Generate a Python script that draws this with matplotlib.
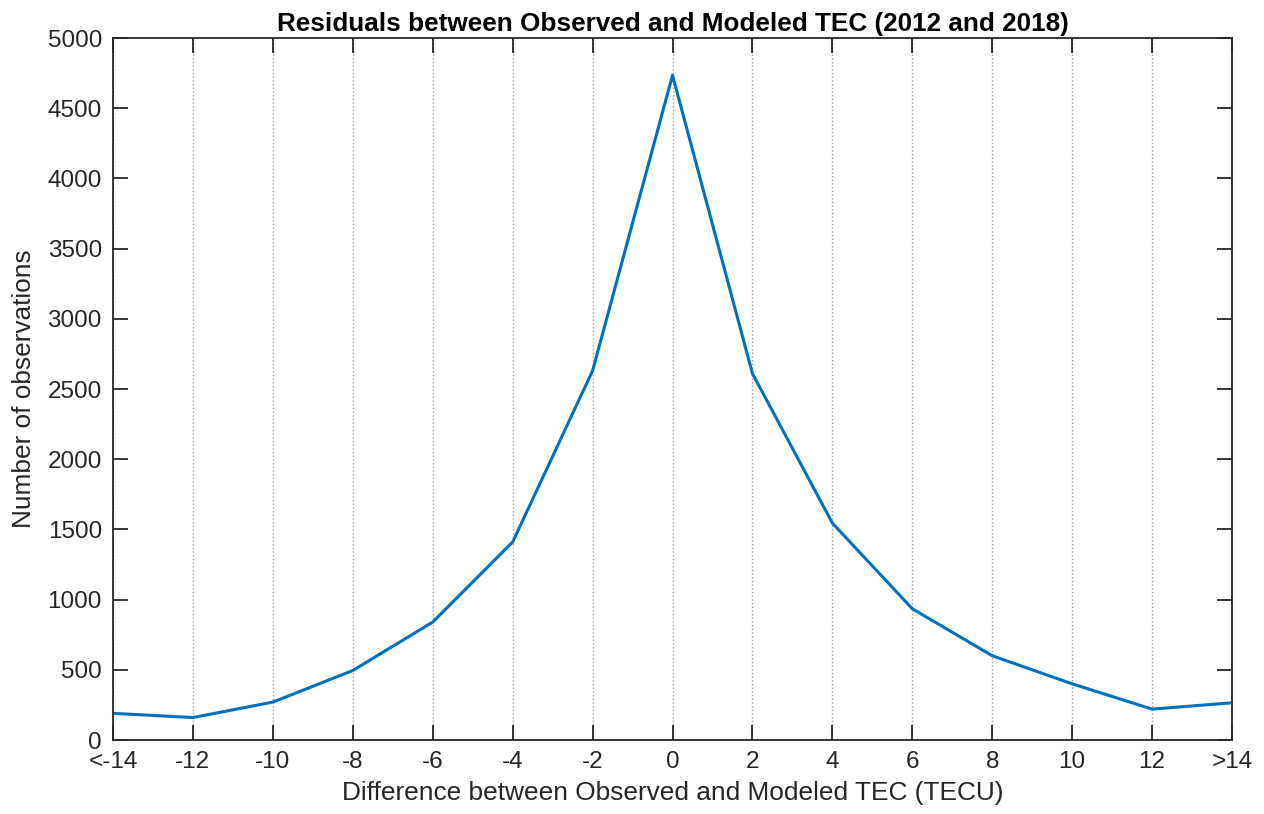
import matplotlib.pyplot as plt

# residual bins (TECU) and counts
bins = [-14, -12, -10, -8, -6, -4, -2, 0, 2, 4, 6, 8, 10, 12, 14]
tick_labels = ['<-14', '-12', '-10', '-8', '-6', '-4', '-2', '0', '2', '4', '6', '8', '10', '12', '>14']
counts = [190, 160, 270, 495, 840, 1410, 2630, 4735, 2610, 1545, 935, 600, 400, 220, 265]

plt.rcParams['font.family'] = ['Liberation Sans', 'DejaVu Sans']

fig = plt.figure(figsize=(12.64, 8.14), dpi=100)
ax = fig.add_axes([0.0894, 0.0909, 0.8853, 0.8624])

ax.plot(bins, counts, color='#0072BD', linewidth=2.2)

ax.set_xlim(-14, 14)
ax.set_ylim(0, 5000)
ax.set_xticks(bins)
ax.set_xticklabels(tick_labels)
ax.set_yticks(range(0, 5001, 500))
ax.tick_params(direction='in', top=True, right=True, length=11, width=1.3,
               labelsize=17.5, colors='#262626', pad=8)
ax.xaxis.grid(True, linestyle=':', color='#a0a0a0', linewidth=1)
for s in ax.spines.values():
    s.set_linewidth(1.3)
    s.set_color('#262626')

ax.set_xlabel('Difference between Observed and Modeled TEC (TECU)', fontsize=18.9,
              color='#262626', labelpad=6)
ax.set_ylabel('Number of observations', fontsize=18.9, color='#262626', labelpad=8)
ax.set_title('Residuals between Observed and Modeled TEC (2012 and 2018)', fontsize=18.8,
             fontweight='bold', pad=5)

fig.savefig('out.png', dpi=100)
